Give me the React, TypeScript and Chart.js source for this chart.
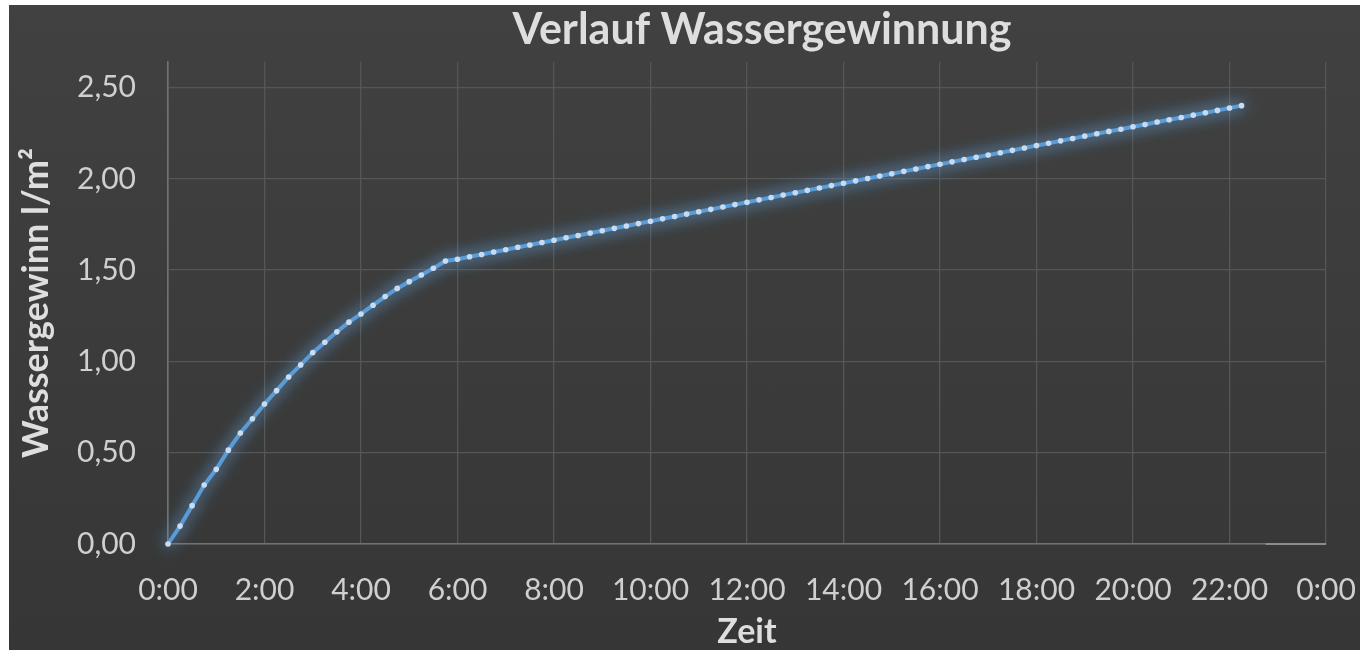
import { useEffect, useRef } from "react";
import { Chart, registerables } from "chart.js";

Chart.register(...registerables);

const chartTitle = "Verlauf Wassergewinnung";
const xAxisTitle = "Zeit";
const yAxisTitle = "Wassergewinn l/m²";

// Messzeitpunkte (alle 15 Minuten)
const times = [
  "0:00", "0:15", "0:30", "0:45", "1:00", "1:15", "1:30", "1:45",
  "2:00", "2:15", "2:30", "2:45", "3:00", "3:15", "3:30", "3:45",
  "4:00", "4:15", "4:30", "4:45", "5:00", "5:15", "5:30", "5:45",
  "6:00", "6:15", "6:30", "6:45", "7:00", "7:15", "7:30", "7:45",
  "8:00", "8:15", "8:30", "8:45", "9:00", "9:15", "9:30", "9:45",
  "10:00", "10:15", "10:30", "10:45", "11:00", "11:15", "11:30", "11:45",
  "12:00", "12:15", "12:30", "12:45", "13:00", "13:15", "13:30", "13:45",
  "14:00", "14:15", "14:30", "14:45", "15:00", "15:15", "15:30", "15:45",
  "16:00", "16:15", "16:30", "16:45", "17:00", "17:15", "17:30", "17:45",
  "18:00", "18:15", "18:30", "18:45", "19:00", "19:15", "19:30", "19:45",
  "20:00", "20:15", "20:30", "20:45", "21:00", "21:15", "21:30", "21:45",
  "22:00", "22:15",
];

// Wassergewinn in l/m²
const values = [
  0, 0.098, 0.21, 0.323, 0.409, 0.514, 0.608, 0.686,
  0.767, 0.84, 0.915, 0.981, 1.048, 1.105, 1.162, 1.215,
  1.26, 1.308, 1.355, 1.4, 1.437, 1.473, 1.51, 1.55,
  1.56, 1.573, 1.586, 1.599, 1.612, 1.625, 1.638, 1.651,
  1.664, 1.677, 1.69, 1.703, 1.716, 1.729, 1.742, 1.755,
  1.768, 1.781, 1.794, 1.807, 1.82, 1.833, 1.846, 1.859,
  1.872, 1.885, 1.898, 1.911, 1.924, 1.937, 1.95, 1.963,
  1.976, 1.989, 2.002, 2.015, 2.028, 2.041, 2.054, 2.067,
  2.08, 2.093, 2.106, 2.118, 2.13, 2.143, 2.156, 2.169,
  2.182, 2.195, 2.208, 2.221, 2.234, 2.247, 2.26, 2.272,
  2.285, 2.298, 2.311, 2.324, 2.336, 2.349, 2.362, 2.375,
  2.388, 2.401,
];

// zweite (leere) Reihe entlang der Achse
const baseTimes = ["22:45", "24:00"];
const baseValues = [0, 0];

const xTickHours = [0, 2, 4, 6, 8, 10, 12, 14, 16, 18, 20, 22, 24];
const yTickValues = [0, 0.5, 1, 1.5, 2, 2.5];

const toHours = (t: string) => {
  const [h, m] = t.split(":").map(Number);
  return h + m / 60;
};

const FONT = "Lato, 'Open Sans', sans-serif";
const TEXT = "#cfcfcf";
const TITLE = "#dedede";
const GRID = "#565656";
const AXIS = "#727272";

const glowPlugin = {
  id: "glow",
  beforeDatasetDraw(chart: any, args: any) {
    if (args.index !== 0) return;
    const ctx = chart.ctx;
    ctx.save();
    ctx.shadowColor = "rgba(115,180,245,0.95)";
    ctx.shadowBlur = 16;
  },
  afterDatasetDraw(chart: any, args: any) {
    if (args.index !== 0) return;
    chart.ctx.restore();
  },
};

const titlePlugin = {
  id: "customTitle",
  afterDraw(chart: any) {
    const { ctx, chartArea } = chart;
    ctx.save();
    ctx.font = `bold 43px ${FONT}`;
    ctx.fillStyle = TITLE;
    ctx.textAlign = "center";
    ctx.textBaseline = "alphabetic";
    ctx.fillText(chartTitle, (chartArea.left + chartArea.right) / 2 + 15, 39);
    ctx.restore();
  },
};

export default function App() {
  const canvasRef = useRef<HTMLCanvasElement | null>(null);

  useEffect(() => {
    if (!canvasRef.current) return;
    const chart = new Chart(canvasRef.current, {
      type: "line",
      data: {
        datasets: [
          {
            label: "Wassergewinn",
            data: times.map((t, i) => ({ x: toHours(t), y: values[i] })),
            borderColor: "#5b9bd5",
            borderWidth: 4,
            pointRadius: 2.8,
            pointBackgroundColor: "#c9ddf2",
            pointBorderWidth: 0,
            tension: 0,
            clip: false,
          },
          {
            label: "Reihe 2",
            data: baseTimes.map((t, i) => ({ x: toHours(t), y: baseValues[i] })),
            borderColor: "#8c8c8c",
            borderWidth: 2,
            pointRadius: 0,
            clip: false,
          },
        ],
      },
      options: {
        responsive: true,
        maintainAspectRatio: false,
        animation: false,
        layout: { padding: { top: 57, right: 34, left: 0, bottom: 0 } },
        plugins: {
          legend: { display: false },
          tooltip: { enabled: false },
          title: { display: false },
        },
        scales: {
          x: {
            type: "linear",
            min: 0,
            max: 24,
            afterBuildTicks: (s: any) => {
              s.ticks = xTickHours.map((v) => ({ value: v }));
            },
            ticks: {
              padding: 0,
              color: TEXT,
              font: { family: FONT, size: 30 },
              maxRotation: 0,
              autoSkip: false,
              callback: (v: any) => `${Number(v) % 24}:00`,
            },
            grid: {
              color: GRID,
              lineWidth: 1.3,
              drawTicks: true,
              tickLength: 28,
              tickColor: "rgba(0,0,0,0)",
            },
            border: { color: AXIS, width: 1.6 },
            title: {
              display: true,
              text: xAxisTitle,
              color: TITLE,
              font: { family: FONT, size: 34, weight: "bold" },
              padding: { top: 0, bottom: -2 },
            },
            afterFit: (s: any) => {
              s.height = 106;
            },
          },
          y: {
            min: 0,
            max: 2.64,
            afterBuildTicks: (s: any) => {
              s.ticks = yTickValues.map((v) => ({ value: v }));
            },
            ticks: {
              padding: 32,
              color: TEXT,
              font: { family: FONT, size: 30 },
              callback: (v: any) => Number(v).toFixed(2).replace(".", ","),
            },
            grid: { color: GRID, lineWidth: 1.3, drawTicks: false },
            border: { color: AXIS, width: 1.6 },
            title: {
              display: true,
              text: yAxisTitle,
              color: TITLE,
              font: { family: FONT, size: 36, weight: "bold" },
              padding: { top: 6, bottom: 0 },
            },
            afterFit: (s: any) => {
              s.width = 159;
            },
          },
        },
      },
      plugins: [glowPlugin, titlePlugin],
    });
    return () => chart.destroy();
  }, []);

  return (
    <div
      style={{
        position: "fixed",
        left: 9,
        top: 5,
        width: 1351,
        height: 645,
        background: "linear-gradient(#414141, #363636)",
      }}
    >
      <canvas ref={canvasRef} />
    </div>
  );
}
